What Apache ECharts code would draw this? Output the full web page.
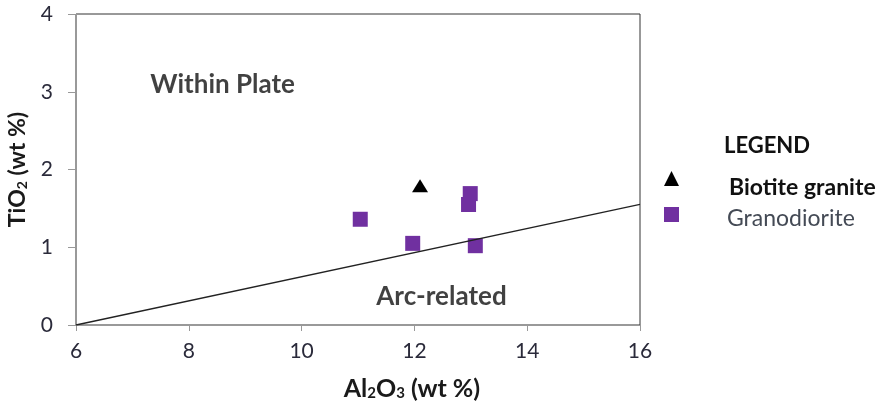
<!DOCTYPE html>
<html><head><meta charset="utf-8">
<script src="https://cdn.jsdelivr.net/npm/echarts@6/dist/echarts.min.js"></script>
<style>html,body{margin:0;padding:0;background:#fff}#c{width:885px;height:408px}</style>
</head><body><div id="c"></div>
<script>
const xTicks = [6, 8, 10, 12, 14, 16];
const yTicks = [0, 1, 2, 3, 4];
const biotiteGranite = [[12.1, 1.79]];
const granodiorite = [[11.04, 1.36], [11.97, 1.05], [12.99, 1.69], [12.96, 1.55], [13.08, 1.02]];
const divideLine = [[6, 0], [16, 1.55]];
const fieldLabels = [{name: 'Within Plate', value: [8.6, 3.09]}, {name: 'Arc-related', value: [12.48, 0.37]}];

const FONT = 'Lato, "Open Sans", sans-serif';
const chart = echarts.init(document.getElementById('c'));
chart.setOption({
  animation: false,
  textStyle: {fontFamily: FONT},
  grid: {left: 76, right: 245, top: 14, bottom: 83, show: true, borderColor: '#333', borderWidth: 1, containLabel: false, outerBoundsMode: 'none'},
  xAxis: {
    type: 'value', min: xTicks[0], max: xTicks[xTicks.length - 1], interval: 2,
    splitLine: {show: false},
    axisLine: {lineStyle: {color: '#999'}},
    axisTick: {length: 6, lineStyle: {color: '#999'}},
    axisLabel: {color: '#2a2a3a', fontSize: 21, margin: 16, fontFamily: FONT},
    name: '{b|Al}{s|2}{b|O}{s|3}{b| (wt %)}', nameLocation: 'middle', nameGap: 51,
    nameTextStyle: {padding: [0, 0, 0, 108], rich: {
      b: {fontSize: 25, fontWeight: 'bold', color: '#1a1a1a', fontFamily: FONT},
      s: {fontSize: 15, fontWeight: 'bold', color: '#1a1a1a', fontFamily: FONT, verticalAlign: 'bottom', padding: [10, 0, 0, 0]}
    }}
  },
  yAxis: {
    type: 'value', min: yTicks[0], max: yTicks[yTicks.length - 1], interval: 1,
    splitLine: {show: false},
    axisLine: {lineStyle: {color: '#999'}},
    axisTick: {length: 8, lineStyle: {color: '#999'}},
    axisLabel: {color: '#2a2a3a', fontSize: 21, margin: 23, fontFamily: FONT},
    name: '{b|TiO}{s|2}{b| (wt %)}', nameLocation: 'middle', nameGap: 41, nameRotate: 90,
    nameTextStyle: {rich: {
      b: {fontSize: 23, fontWeight: 'bold', color: '#1a1a1a', fontFamily: FONT},
      s: {fontSize: 14, fontWeight: 'bold', color: '#1a1a1a', fontFamily: FONT, verticalAlign: 'bottom', padding: [10, 0, 0, 0]}
    }}
  },
  title: {text: 'LEGEND', left: 724, top: 135, padding: 0, textStyle: {fontSize: 22, fontWeight: 'bold', color: '#111', fontFamily: FONT}},
  legend: {
    data: ['Biotite granite', 'Granodiorite'],
    orient: 'vertical', left: 664, top: 158, itemGap: 0, itemWidth: 15, itemHeight: 15, padding: 0,
    formatter: n => n === 'Biotite granite' ? '{b|' + n + '}' : '{n|' + n + '}',
    textStyle: {rich: {
      b: {fontSize: 23, fontWeight: 'bold', color: '#111', fontFamily: FONT, padding: [18, 0, 0, 45], lineHeight: 26},
      n: {fontSize: 23, color: '#444a55', fontFamily: FONT, padding: [8, 0, 0, 43], lineHeight: 26}
    }}
  },
  series: [
    {type: 'line', name: 'divide', data: divideLine, symbol: 'none', lineStyle: {color: '#222', width: 1.3}, silent: true},
    {type: 'scatter', name: 'Biotite granite', data: biotiteGranite, symbol: 'triangle', symbolSize: [16, 13], itemStyle: {color: '#000', opacity: 1}},
    {type: 'scatter', name: 'Granodiorite', data: granodiorite, symbol: 'rect', symbolSize: 15, itemStyle: {color: '#7030A0', opacity: 1}},
    {type: 'scatter', name: 'labels', data: fieldLabels, symbolSize: 0, silent: true,
     label: {show: true, position: 'inside', formatter: p => p.name, fontSize: 26, fontWeight: 'bold', color: '#111', fontFamily: FONT}}
  ]
});
</script></body></html>
